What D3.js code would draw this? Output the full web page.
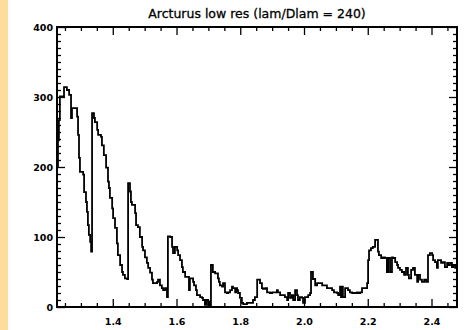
<!DOCTYPE html>
<html lang="en">
  <head>
    <meta charset="utf-8">
    <title>Arcturus low res</title>
    <script src="https://cdn.jsdelivr.net/npm/d3@7"></script>
    <style>
      body { margin: 0; background: #fff; }
      text { font-family: "DejaVu Sans", sans-serif; }
    </style>
  </head>
  <body>

    <script>

       // spectrum (step histogram)
       var wave = [1.225,1.228,1.231,1.234,1.247,1.256,1.263,1.269,1.272,1.288,1.291,1.294,1.297,1.307,1.310,1.316,1.319,1.322,1.325,1.329,
                   1.332,1.335,1.341,1.344,1.351,1.354,1.363,1.366,1.372,1.379,1.385,1.388,1.391,1.398,1.401,1.407,1.413,1.416,1.423,1.429,
                   1.432,1.438,1.445,1.448,1.454,1.457,1.460,1.470,1.473,1.479,1.485,1.492,1.495,1.501,1.507,1.511,1.517,1.523,1.526,1.539,
                   1.542,1.548,1.554,1.558,1.564,1.570,1.573,1.580,1.586,1.589,1.595,1.602,1.605,1.611,1.617,1.620,1.627,1.639,1.642,1.652,
                   1.655,1.661,1.664,1.674,1.680,1.683,1.689,1.693,1.699,1.702,1.705,1.708,1.714,1.721,1.730,1.733,1.736,1.743,1.746,1.752,
                   1.758,1.762,1.768,1.774,1.777,1.784,1.787,1.790,1.793,1.799,1.805,1.809,1.821,1.840,1.846,1.853,1.862,1.868,1.871,1.878,
                   1.884,1.893,1.900,1.915,1.918,1.925,1.940,1.947,1.950,1.956,1.962,1.966,1.972,1.978,1.981,1.987,1.994,1.997,2.003,2.013,
                   2.019,2.022,2.028,2.035,2.041,2.057,2.072,2.088,2.094,2.104,2.107,2.113,2.116,2.119,2.122,2.129,2.138,2.144,2.151,2.166,
                   2.169,2.176,2.182,2.198,2.201,2.204,2.210,2.216,2.223,2.232,2.235,2.242,2.248,2.254,2.260,2.264,2.270,2.276,2.279,2.286,
                   2.292,2.295,2.301,2.307,2.314,2.320,2.326,2.329,2.336,2.342,2.348,2.355,2.358,2.364,2.370,2.377,2.383,2.389,2.395,2.402,
                   2.405,2.411,2.417,2.420,2.430,2.436,2.442,2.449,2.452,2.458,2.464,2.468,2.474,2.480]
       var flux = [200,238,267,301,314,310,303,270,284,272,246,213,193,189,164,150,136,117,103,93,
                   79,277,270,264,253,246,243,231,217,199,179,170,156,141,127,113,91,74,60,50,
                   46,41,40,177,165,150,146,134,117,114,100,86,81,71,63,56,49,39,34,36,
                   39,31,27,24,27,14,101,100,86,77,86,81,74,67,57,50,43,24,41,36,
                   31,24,17,14,13,10,3,10,2,8,0,60,50,48,41,36,31,29,34,21,
                   20,21,24,29,27,21,27,24,20,13,6,4,6,10,14,39,34,27,26,27,
                   21,20,21,24,21,17,14,10,20,13,17,10,24,17,10,14,13,6,14,17,
                   20,50,40,31,34,31,27,24,21,20,17,29,14,29,14,27,24,21,20,21,
                   20,21,27,34,67,81,84,86,96,79,74,70,71,70,50,70,50,71,70,64,
                   60,56,53,50,46,56,46,41,53,56,46,36,46,39,36,39,36,74,77,74,
                   67,64,56,67,63,64,57,63,60,63,57,60,56,49]

       var xTicks = [1.4, 1.6, 1.8, 2.0, 2.2, 2.4]
       var yTicks = [0, 100, 200, 300, 400]
       var title = "Arcturus low res (lam/Dlam = 240)"

       var width = 466, height = 330

       var svg = d3.select("body").append("svg")
                   .attr("width", width)
                   .attr("height", height);

       // peach strip down the left edge
       svg.append("rect").attr("x", 0).attr("y", 0).attr("width", 8).attr("height", height)
          .style("fill", "#fedc9b");

       var x = d3.scaleLinear().domain([1.225, 2.48]).range([57, 457]);
       var y = d3.scaleLinear().domain([0, 400]).range([307, 27]);

       var xMinor = d3.range(1.25, 2.48, 0.05).filter(function(v){ return Math.abs(v*5 - Math.round(v*5)) > 1e-6; });
       var yMinor = d3.range(10, 400, 10).filter(function(v){ return v % 100 != 0; });

       function ticks(axis, vals, size, labels, cls) {
         var g = svg.append("g").attr("class", cls).call(axis.tickValues(vals).tickSize(size)
              .tickFormat(labels ? d3.format(".1f") : ""));
         g.select(".domain").remove();
         g.selectAll("line").style("stroke", "#000").style("stroke-width", 1.3);
         return g;
       }

       // bottom
       var gb = ticks(d3.axisBottom(x), xTicks, -8, true, "xb").attr("transform", "translate(0,307)");
       gb.selectAll("text").attr("y", 11).style("font-size", "9.5px").style("font-weight", "bold").style("fill", "#000");
       ticks(d3.axisBottom(x), xMinor, -4, false, "xbm").attr("transform", "translate(0,307)");
       // top
       ticks(d3.axisTop(x), xTicks, -8, false, "xt").attr("transform", "translate(0,27)");
       ticks(d3.axisTop(x), xMinor, -4, false, "xtm").attr("transform", "translate(0,27)");
       // left
       var gl = svg.append("g").attr("transform", "translate(57,0)")
          .call(d3.axisLeft(y).tickValues(yTicks).tickSize(-8).tickPadding(4).tickFormat(d3.format("d")));
       gl.select(".domain").remove();
       gl.selectAll("line").style("stroke", "#000").style("stroke-width", 1.3);
       gl.selectAll("text").attr("x", -4).style("font-size", "9.5px").style("font-weight", "bold").style("fill", "#000");
       ticks(d3.axisLeft(y), yMinor, -4, false, "ylm").attr("transform", "translate(57,0)");
       // right
       ticks(d3.axisRight(y), yTicks, -8, false, "yr").attr("transform", "translate(457,0)");
       ticks(d3.axisRight(y), yMinor, -4, false, "yrm").attr("transform", "translate(457,0)");

       // frame
       svg.append("rect").attr("x", x(1.225)).attr("y", y(400))
          .attr("width", x(2.48) - x(1.225)).attr("height", y(0) - y(400))
          .style("fill", "none").style("stroke", "#000").style("stroke-width", 2);

       // spectrum
       var line = d3.line().curve(d3.curveStepAfter)
                    .x(function(d, i) { return x(wave[i]); })
                    .y(function(d) { return y(d); });

       svg.append("path").datum(flux)
          .attr("d", line)
          .style("fill", "none").style("stroke", "#000").style("stroke-width", 1.8)
          .style("stroke-linejoin", "miter");

       svg.append("text").attr("x", (x(1.225) + x(2.48)) / 2).attr("y", 18)
          .attr("text-anchor", "middle").style("font-size", "12.5px").style("fill", "#000")
          .style("stroke", "#000").style("stroke-width", 0.3)
          .text(title);

    </script>

  </body>
</html>
